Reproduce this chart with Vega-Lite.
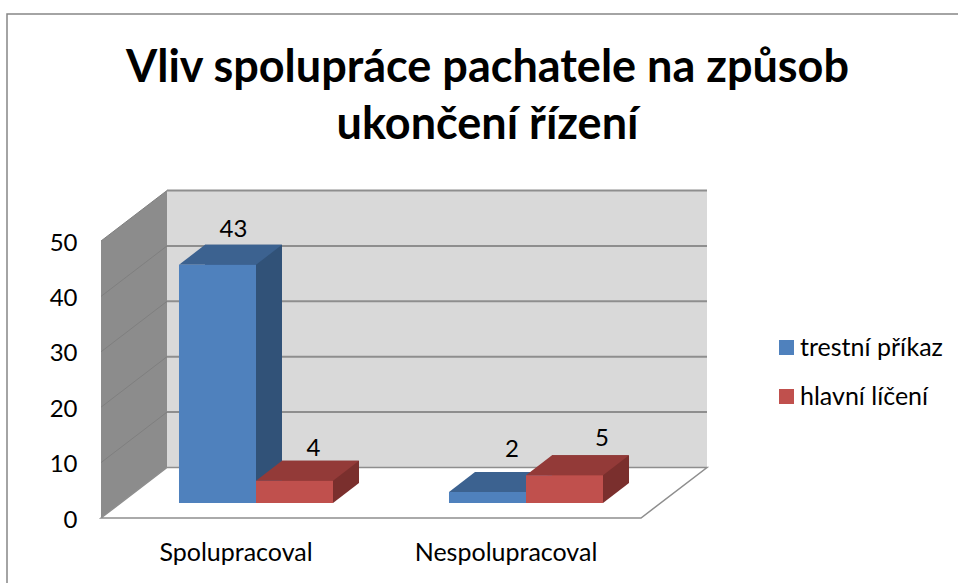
{
"$schema":"https://vega.github.io/schema/vega-lite/v6.json",
"autosize":"none",
"width":960,"height":580,
"padding":{"left":7,"top":14,"right":0,"bottom":0},
"background":"white",
"view":{"stroke":"#868686","strokeWidth":1.5,"fill":"white"},
"config":{"font":"Lato"},
"title":{"text":["Vliv spolupráce pachatele na způsob","ukončení řízení"],"anchor":"middle","frame":"group","font":"Lato","fontSize":45,"fontWeight":"bold","color":"#000000","lineHeight":57,"dx":0.5,"dy":138},
"datasets":{
"bars":[
{"kategorie":"Spolupracoval","serie":"trestní příkaz","pocet":43},
{"kategorie":"Spolupracoval","serie":"hlavní líčení","pocet":4},
{"kategorie":"Nespolupracoval","serie":"trestní příkaz","pocet":2},
{"kategorie":"Nespolupracoval","serie":"hlavní líčení","pocet":5}
],
"ticks":[{"t":0},{"t":10},{"t":20},{"t":30},{"t":40},{"t":50}],
"one":[{"frame":"stena"}]
},
"resolve":{"scale":{"x":"independent","color":"independent"}},
"layer":[
{"data":{"name":"one"},
 "mark":{"type":"rect","fill":"#D9D9D9","xOffset":66,"x2Offset":66,"yOffset":-50.5,"y2Offset":-50.5},
 "encoding":{"x":{"datum":0,"type":"quantitative","scale":{"domain":[0,1],"range":[94,634]},"axis":null},"x2":{"datum":1},
 "y":{"datum":0,"type":"quantitative","scale":{"domain":[0,50],"range":[504,227],"nice":false,"zero":false},
   "axis":{"orient":"left","offset":-94,"values":[0,10,20,30,40,50],"title":null,"grid":false,"domain":false,"ticks":false,"labelPadding":24,"labelFontSize":24,"labelFont":"Lato","labelColor":"#000000","labelBaseline":"middle","labelOffset":2}},
 "y2":{"datum":50}}},
{"data":{"name":"ticks"},"transform":[{"filter":"datum.t>0"}],
 "mark":{"type":"rule","stroke":"#8E8E8E","strokeWidth":2,"xOffset":66,"x2Offset":66,"yOffset":-50.5,"y2Offset":-50.5},
 "encoding":{"x":{"datum":0,"type":"quantitative","scale":{"domain":[0,1],"range":[94,634]},"axis":null},"x2":{"datum":1},
 "y":{"field":"t","type":"quantitative"}}},
{"data":{"name":"one"},
 "mark":{"type":"point","filled":true,"opacity":1,"size":4,"fill":"#8C8C8C","strokeWidth":0,"shape":"M0,0L66,-50.5L66,-327.5L0,-277Z"},
 "encoding":{"x":{"datum":0,"type":"quantitative","scale":{"domain":[0,1],"range":[94,634]},"axis":null},
 "y":{"datum":0,"type":"quantitative"}}},
{"data":{"name":"ticks"},"transform":[{"filter":"datum.t>0"}],
 "mark":{"type":"point","filled":false,"opacity":1,"size":4,"stroke":"#7F7F7F","strokeWidth":1,"shape":"M0,0L66,-50.5"},
 "encoding":{"x":{"datum":0,"type":"quantitative","scale":{"domain":[0,1],"range":[94,634]},"axis":null},
 "y":{"field":"t","type":"quantitative"}}},
{"data":{"name":"one"},
 "mark":{"type":"point","filled":true,"opacity":1,"size":4,"fill":"#FFFFFF","stroke":"#8E8E8E","strokeWidth":1.5,"shape":"M0,0L66,-50.5L606,-50.5L540,0Z"},
 "encoding":{"x":{"datum":0,"type":"quantitative","scale":{"domain":[0,1],"range":[94,634]},"axis":null},
 "y":{"datum":0,"type":"quantitative"}}},
{"data":{"name":"bars"},
 "mark":{"type":"rect","yOffset":-35,"y2Offset":-35},
 "encoding":{
 "x":{"field":"kategorie","type":"nominal","sort":["Spolupracoval","Nespolupracoval"],"scale":{"domain":["Spolupracoval","Nespolupracoval"],"range":[140,680],"paddingInner":0.4296,"paddingOuter":0.2148},"axis":null},
 "xOffset":{"field":"serie","type":"nominal","scale":{"domain":["trestní příkaz","hlavní líčení"]}},
 "y":{"field":"pocet","type":"quantitative"},"y2":{"datum":0},
 "color":{"field":"serie","type":"nominal","legend":null,"scale":{"domain":["trestní příkaz","hlavní líčení"],"range":["#315278","#7A2F2D"]}}}},
{"data":{"name":"bars"},
 "mark":{"type":"point","filled":true,"opacity":1,"size":4,"strokeWidth":0,"yOffset":-15,"shape":"M38.5,0L64.5,-20L38.5,-20Z"},
 "encoding":{
 "x":{"field":"kategorie","type":"nominal","sort":["Spolupracoval","Nespolupracoval"],"scale":{"domain":["Spolupracoval","Nespolupracoval"],"range":[114,654],"paddingInner":0.4296,"paddingOuter":0.2148},"axis":null},
 "xOffset":{"field":"serie","type":"nominal","scale":{"domain":["trestní příkaz","hlavní líčení"]}},
 "y":{"datum":0,"type":"quantitative"},
 "color":{"field":"serie","type":"nominal","legend":null,"scale":{"domain":["trestní příkaz","hlavní líčení"],"range":["#315278","#7A2F2D"]}}}},
{"data":{"name":"bars"},
 "mark":{"type":"point","filled":true,"opacity":1,"size":4,"strokeWidth":0,"yOffset":-15,"shape":"M-38.5,0L38.5,0L64.5,-20L-12.5,-20Z"},
 "encoding":{
 "x":{"field":"kategorie","type":"nominal","sort":["Spolupracoval","Nespolupracoval"],"scale":{"domain":["Spolupracoval","Nespolupracoval"],"range":[114,654],"paddingInner":0.4296,"paddingOuter":0.2148},"axis":null},
 "xOffset":{"field":"serie","type":"nominal","scale":{"domain":["trestní příkaz","hlavní líčení"]}},
 "y":{"field":"pocet","type":"quantitative"},
 "color":{"field":"serie","type":"nominal","legend":null,"scale":{"domain":["trestní příkaz","hlavní líčení"],"range":["#3C6290","#933A38"]}}}},
{"data":{"name":"bars"},
 "mark":{"type":"rect","yOffset":-15,"y2Offset":-15},
 "encoding":{
 "x":{"field":"kategorie","type":"nominal","sort":["Spolupracoval","Nespolupracoval"],"scale":{"domain":["Spolupracoval","Nespolupracoval"],"range":[114,654],"paddingInner":0.4296,"paddingOuter":0.2148},"axis":null},
 "xOffset":{"field":"serie","type":"nominal","scale":{"domain":["trestní příkaz","hlavní líčení"]}},
 "y":{"field":"pocet","type":"quantitative"},"y2":{"datum":0},
 "color":{"field":"serie","type":"nominal","scale":{"domain":["trestní příkaz","hlavní líčení"],"range":["#4F81BD","#C0504D"]},
   "legend":{"orient":"none","legendX":767,"legendY":321,"title":null,"symbolType":"square","symbolSize":225,"symbolStrokeWidth":0,"labelFontSize":25,"labelFont":"Lato","labelColor":"#000000","labelOffset":1,"rowPadding":23,"padding":0}}}},
{"data":{"name":"bars"},
 "mark":{"type":"text","fontSize":24,"font":"Lato","color":"#000000","baseline":"middle","align":"center",
  "dx":{"expr":"datum.pocet==43?36:datum.pocet==4?39:datum.pocet==2?44.5:57.5"},
  "dy":{"expr":"datum.pocet==43?-50:datum.pocet==4?-47:datum.pocet==2?-57:-51"}},
 "encoding":{
 "x":{"field":"kategorie","type":"nominal","sort":["Spolupracoval","Nespolupracoval"],"scale":{"domain":["Spolupracoval","Nespolupracoval"],"range":[94,634],"paddingInner":0.4296,"paddingOuter":0.2148},
   "axis":{"orient":"bottom","offset":-76,"title":null,"domain":false,"ticks":false,"labelAngle":0,"labelPadding":34,"labelFontSize":25,"labelFont":"Lato","labelColor":"#000000","labelBaseline":"middle","labelLimit":400,"grid":false}},
 "xOffset":{"field":"serie","type":"nominal","scale":{"domain":["trestní příkaz","hlavní líčení"]}},
 "y":{"field":"pocet","type":"quantitative"},
 "text":{"field":"pocet","type":"quantitative"}}}
]
}
